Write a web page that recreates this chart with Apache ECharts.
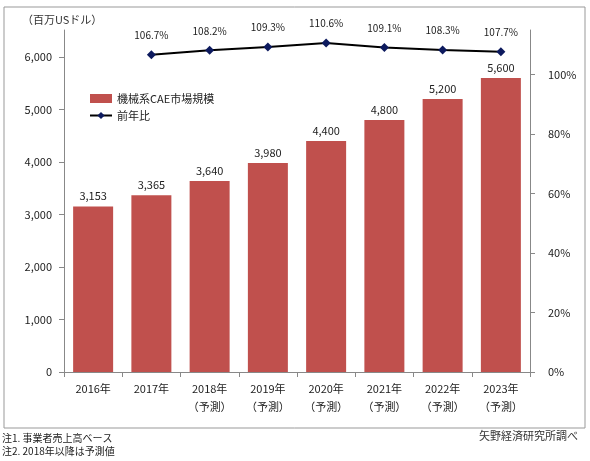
<!DOCTYPE html><html><head><meta charset="utf-8"><script src="https://cdn.jsdelivr.net/npm/echarts@6/dist/echarts.min.js"></script></head><body style="margin:0;background:#fff"><div id="c" style="width:590px;height:461px"></div><script>
const categories=['2016年','2017年','2018年\n（予測）','2019年\n（予測）','2020年\n（予測）','2021年\n（予測）','2022年\n（予測）','2023年\n（予測）'];
const marketSize=[3153,3365,3640,3980,4400,4800,5200,5600];
const yoy=[null,106.7,108.2,109.3,110.6,109.1,108.3,107.7];
const F='"Noto Sans CJK JP",sans-serif';
const ch=echarts.init(document.getElementById('c'));
ch.setOption({animation:false,textStyle:{fontFamily:F},
graphic:[{type:'rect',shape:{x:4,y:7,width:581,height:421},style:{fill:'none',stroke:'#999',lineWidth:1}},
{type:'text',left:22,top:14,style:{text:'（百万USドル）',font:'11px '+F,fill:'#333'}},
{type:'text',right:12,top:430,style:{text:'矢野経済研究所調べ',font:'11px '+F,fill:'#333'}},
{type:'text',left:2,top:432,style:{text:'注1. 事業者売上高ベース\n注2. 2018年以降は予測値',font:'10px '+F,fill:'#222',lineHeight:13}}],
legend:{orient:'vertical',left:84,top:88,itemGap:6,itemWidth:22,itemHeight:9,textStyle:{fontSize:11,color:'#222'},data:[{name:'機械系CAE市場規模',icon:'rect'},{name:'前年比'}]},
grid:{left:64,right:60,top:30,bottom:89},
xAxis:{type:'category',data:categories,axisLine:{lineStyle:{color:'#888'}},axisTick:{show:true,alignWithLabel:false,lineStyle:{color:'#888'}},axisLabel:{color:'#222',fontSize:11,lineHeight:18,margin:8}},
yAxis:[{type:'value',min:0,max:6514,interval:1000,splitLine:{show:false},axisLine:{show:true,lineStyle:{color:'#888'}},axisTick:{show:true,lineStyle:{color:'#888'}},axisLabel:{showMaxLabel:false,color:'#222',fontSize:11,margin:12,formatter:v=>v.toLocaleString('en-US')}},
{type:'value',min:0,max:115,interval:20,splitLine:{show:false},axisLine:{show:true,lineStyle:{color:'#888'}},axisTick:{show:true,inside:false,lineStyle:{color:'#888'}},axisLabel:{showMaxLabel:false,color:'#222',fontSize:11,margin:18,formatter:v=>v+'%'}}],
series:[{name:'機械系CAE市場規模',type:'bar',data:marketSize,barWidth:40,itemStyle:{color:'#c0504d'},label:{show:true,position:'top',color:'#222',fontSize:11,formatter:p=>p.value.toLocaleString('en-US')}},
{name:'前年比',type:'line',yAxisIndex:1,data:yoy,symbol:'diamond',symbolSize:9,lineStyle:{color:'#000',width:2},itemStyle:{color:'#0d1a5e'},label:{show:true,position:'top',distance:10,color:'#222',fontSize:10,formatter:p=>p.value.toFixed(1)+'%'}}]});
</script></body></html>
